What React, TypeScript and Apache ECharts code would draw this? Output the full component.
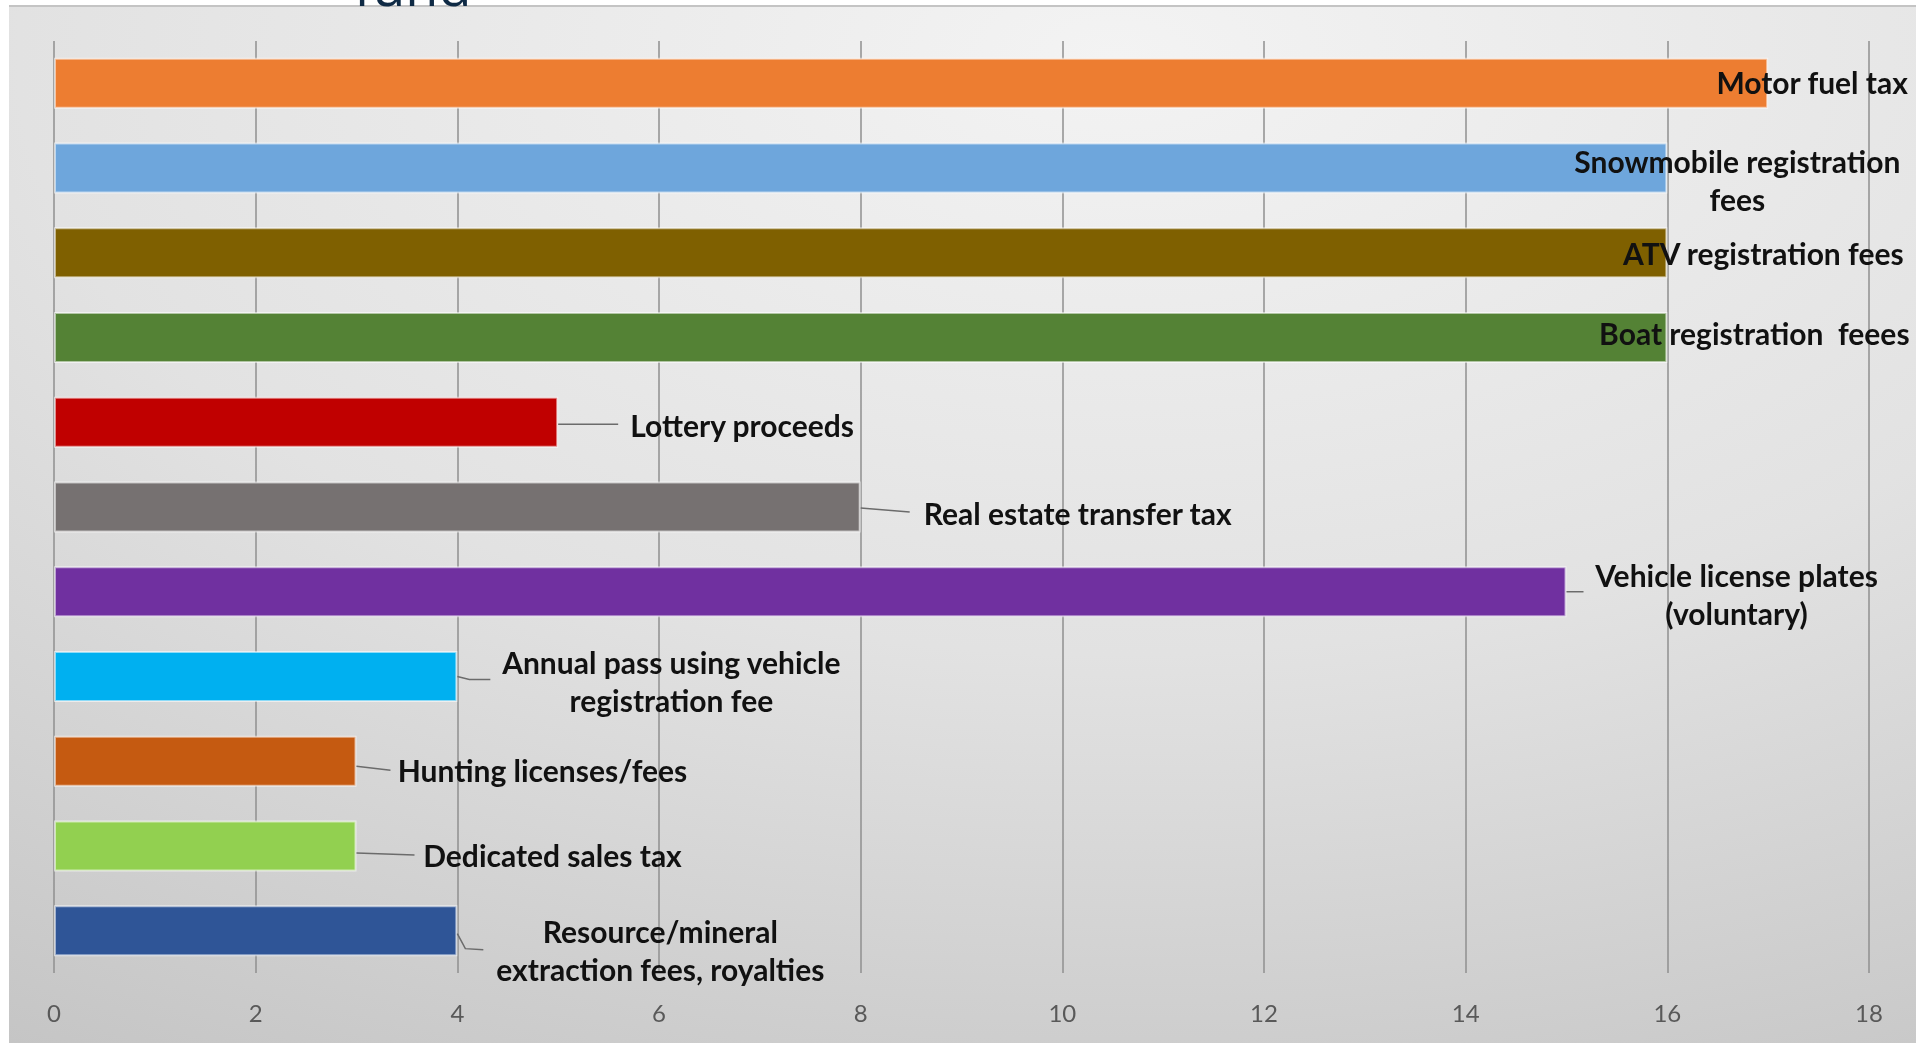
import React, { useEffect, useRef } from "react";
import * as echarts from "echarts";

const categories = [
  "Motor fuel tax",
  "Snowmobile registration\nfees",
  "ATV registration fees",
  "Boat registration  feees",
  "Lottery proceeds",
  "Real estate transfer tax",
  "Vehicle license plates\n(voluntary)",
  "Annual pass using vehicle\nregistration fee",
  "Hunting licenses/fees",
  "Dedicated sales tax",
  "Resource/mineral\nextraction fees, royalties",
];
const values = [17, 16, 16, 16, 5, 8, 15, 4, 3, 3, 4];
const barColors = [
  "#ED7D31",
  "#6EA6DC",
  "#7F6000",
  "#548235",
  "#C00000",
  "#767171",
  "#7030A0",
  "#00B0F0",
  "#C55A11",
  "#92D050",
  "#2F5597",
];
// label placement relative to bar end (layout, not data)
const labelOffsets = [
  [44, -1],
  [70, 12],
  [96, 0],
  [87, -5],
  [184, 3],
  [217, 6],
  [170, 2],
  [214, 5],
  [186, 9],
  [196, 9],
  [203, 19],
];
// leader line shapes relative to bar end (layout, not data); null = no leader
const leaderShapes: (number[][] | null)[] = [
  null,
  null,
  null,
  null,
  [[0, 2], [60, 2]],
  [[0, 1], [49, 5]],
  [[0, 0], [17, 0]],
  [[0, 0], [12, 3], [33, 3]],
  [[0, 5], [34, 9]],
  [[0, 7], [58, 9]],
  [[0, 3], [8, 18], [26, 19]],
];
const axisMin = 0;
const axisMax = 18;
const axisStep = 2;
const titleFragment = "fund";

export default function App() {
  const ref = useRef<HTMLDivElement>(null);
  useEffect(() => {
    if (!ref.current) return;
    const chart = echarts.init(ref.current, undefined, { renderer: "svg" });
    const data = values.map((v, i) => ({
      value: v,
      itemStyle: { color: barColors[i] },
      label: { offset: labelOffsets[i] },
    }));
    const leaderData = values.map((v, i) => [v, i]);
    chart.setOption({
      animation: false,
      graphic: [
        {
          type: "rect",
          z: -100,
          silent: true,
          shape: { x: 9, y: 5, width: 1907, height: 1038 },
          style: {
            fill: new echarts.graphic.RadialGradient(0.58, 0.05, 1.15, [
              { offset: 0, color: "#f3f3f3" },
              { offset: 0.5, color: "#e2e2e2" },
              { offset: 1, color: "#c3c3c3" },
            ]),
          },
        },
        {
          type: "line",
          z: -99,
          silent: true,
          shape: { x1: 9, y1: 6, x2: 1916, y2: 6 },
          style: { stroke: "#c4c4c4", lineWidth: 2 },
        },
        {
          type: "text",
          z: 100,
          silent: true,
          style: {
            text: titleFragment,
            x: 354,
            y: -15,
            fill: "#0f2a45",
            font: "400 54px 'Open Sans'",
            verticalAlign: "middle",
          },
        },
      ],
      grid: { left: 54, right: 47, top: 41, bottom: 70, containLabel: false },
      xAxis: {
        type: "value",
        min: axisMin,
        max: axisMax,
        interval: axisStep,
        axisLine: { show: false },
        axisTick: { show: false },
        splitLine: { show: true, lineStyle: { color: "#8f8f8f", width: 1.5 } },
        axisLabel: {
          color: "#595959",
          fontFamily: "Lato",
          fontSize: 24,
          margin: 27,
        },
      },
      yAxis: {
        type: "category",
        inverse: true,
        data: categories,
        axisLine: { show: false },
        axisTick: { show: false },
        axisLabel: { show: false },
      },
      series: [
        {
          type: "bar",
          barWidth: 51,
          data,
          itemStyle: {
            borderColor: "rgba(255,255,255,0.55)",
            borderWidth: 2,
          },
          label: {
            show: true,
            position: "right",
            distance: 0,
            align: "center",
            formatter: (p: any) => p.name,
            fontFamily: "Lato",
            fontWeight: "bold",
            fontSize: 30,
            lineHeight: 38,
            color: "#111111",
          },
        },
        {
          type: "custom",
          z: 3,
          silent: true,
          data: leaderData,
          encode: { x: 0, y: 1 },
          renderItem: (params: any, api: any) => {
            const shape = leaderShapes[params.dataIndex];
            if (!shape) return null;
            const end = api.coord([api.value(0), api.value(1)]);
            return {
              type: "polyline",
              shape: { points: shape.map(([dx, dy]) => [end[0] + dx, end[1] + dy]) },
              style: { stroke: "#6b6b6b", lineWidth: 1.5, fill: "none" },
            };
          },
        },
      ],
    });
    return () => chart.dispose();
  }, []);
  return (
    <div
      ref={ref}
      style={{ position: "fixed", left: 0, top: 0, width: 1916, height: 1043 }}
    />
  );
}
